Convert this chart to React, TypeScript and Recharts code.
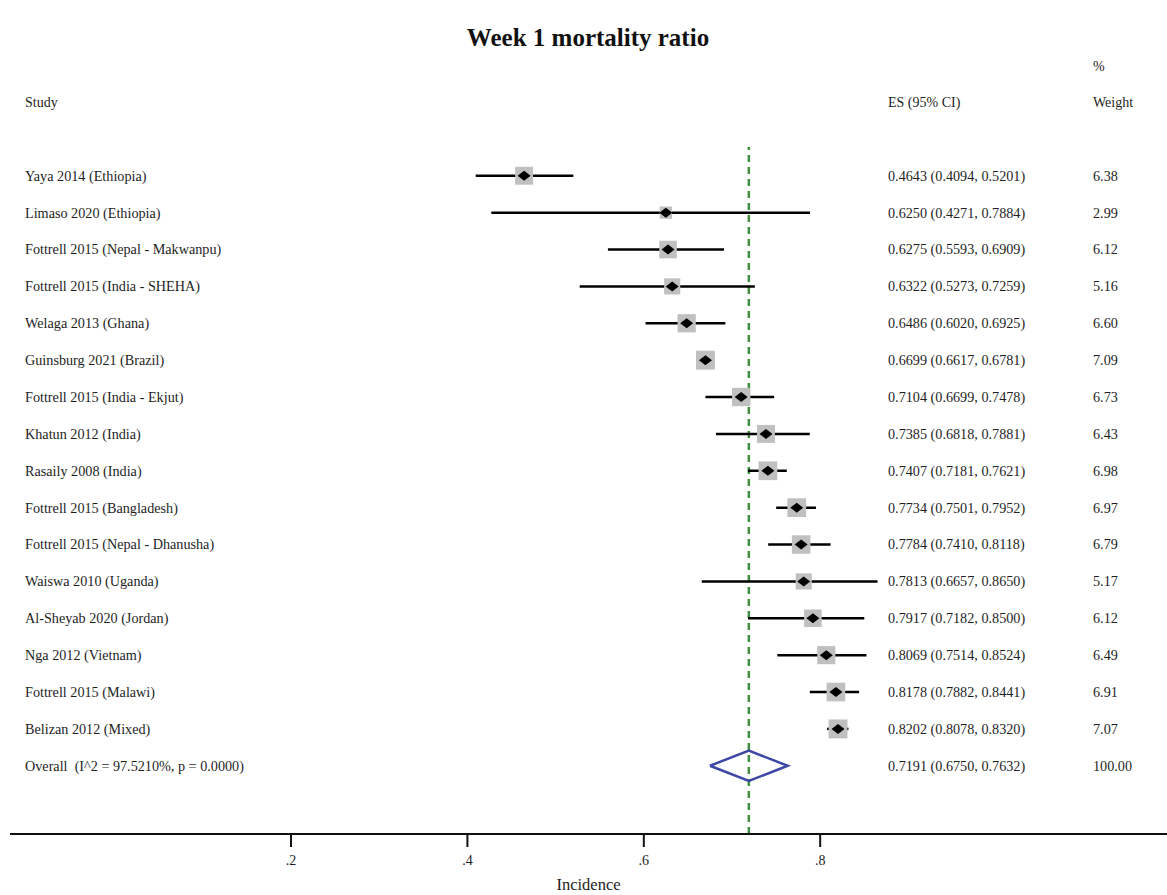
import { ScatterChart, Scatter, XAxis, YAxis, ReferenceLine, ErrorBar } from 'recharts';

const studies = [
  'Yaya 2014 (Ethiopia)',
  'Limaso 2020 (Ethiopia)',
  'Fottrell 2015 (Nepal - Makwanpu)',
  'Fottrell 2015 (India - SHEHA)',
  'Welaga 2013 (Ghana)',
  'Guinsburg 2021 (Brazil)',
  'Fottrell 2015 (India - Ekjut)',
  'Khatun 2012 (India)',
  'Rasaily 2008 (India)',
  'Fottrell 2015 (Bangladesh)',
  'Fottrell 2015 (Nepal - Dhanusha)',
  'Waiswa 2010 (Uganda)',
  'Al-Sheyab 2020 (Jordan)',
  'Nga 2012 (Vietnam)',
  'Fottrell 2015 (Malawi)',
  'Belizan 2012 (Mixed)',
];
const esVals = [0.4643, 0.625, 0.6275, 0.6322, 0.6486, 0.6699, 0.7104, 0.7385, 0.7407, 0.7734, 0.7784, 0.7813, 0.7917, 0.8069, 0.8178, 0.8202];
const ciLow = [0.4094, 0.4271, 0.5593, 0.5273, 0.602, 0.6617, 0.6699, 0.6818, 0.7181, 0.7501, 0.741, 0.6657, 0.7182, 0.7514, 0.7882, 0.8078];
const ciHigh = [0.5201, 0.7884, 0.6909, 0.7259, 0.6925, 0.6781, 0.7478, 0.7881, 0.7621, 0.7952, 0.8118, 0.865, 0.85, 0.8524, 0.8441, 0.832];
const weights = [6.38, 2.99, 6.12, 5.16, 6.6, 7.09, 6.73, 6.43, 6.98, 6.97, 6.79, 5.17, 6.12, 6.49, 6.91, 7.07];

const overallLabel = 'Overall  (I^2 = 97.5210%, p = 0.0000)';
const overallEs = 0.7191;
const overallLow = 0.675;
const overallHigh = 0.7632;
const overallWeight = 100.0;

const xTicks = [0.2, 0.4, 0.6, 0.8];

const FONT = '"Liberation Serif", "Times New Roman", serif';
const TEXT = '#1e1e1e';
const LABEL_X = 25;
const ES_X = 888;
const WT_X = 1093;

const rows = studies.map((name, i) => ({
  name,
  x: esVals[i],
  y: i + 1,
  lo: ciLow[i],
  hi: ciHigh[i],
  w: weights[i],
  err: [esVals[i] - ciLow[i], ciHigh[i] - esVals[i]],
}));

const overallRow = { name: overallLabel, x: overallEs, y: studies.length + 1, lo: overallLow, hi: overallHigh, w: overallWeight };

// outline of the pooled-estimate diamond, walked in order
const diamondPts = [
  { x: overallLow, y: overallRow.y },
  { x: overallEs, y: overallRow.y - 0.41 },
  { x: overallHigh, y: overallRow.y },
  { x: overallEs, y: overallRow.y + 0.41 },
  { x: overallLow, y: overallRow.y },
];

const f4 = (v: number) => v.toFixed(4);

function RowText({ cy, payload }: any) {
  return (
    <g fontFamily={FONT} fontSize={14.2} fill={TEXT}>
      <text x={LABEL_X} y={cy} dy="0.35em" style={{ whiteSpace: 'pre' }}>{payload.name}</text>
      <text x={ES_X} y={cy} dy="0.35em">{`${f4(payload.x)} (${f4(payload.lo)}, ${f4(payload.hi)})`}</text>
      <text x={WT_X} y={cy} dy="0.35em">{payload.w.toFixed(2)}</text>
    </g>
  );
}

function WeightBox(props: any) {
  const { cx, cy, payload } = props;
  const s = 7.1 * Math.sqrt(payload.w);
  return (
    <g>
      <rect x={cx - s / 2} y={cy - s / 2} width={s} height={s} fill="#c0c0c0" />
      <RowText cy={cy} payload={payload} />
    </g>
  );
}

function PointDiamond({ cx, cy }: any) {
  return <polygon points={`${cx - 6.5},${cy} ${cx},${cy - 5} ${cx + 6.5},${cy} ${cx},${cy + 5}`} fill="#000" />;
}

export default function App() {
  return (
    <div style={{ position: 'absolute', left: 0, top: 0, width: 1167, height: 895, background: '#fff', fontFamily: FONT }}>
      <svg width={1167} height={895} style={{ position: 'absolute', left: 0, top: 0 }}>
        <text x={588} y={46} textAnchor="middle" fontFamily={FONT} fontSize={25} fontWeight="bold" fill="#111">
          Week 1 mortality ratio
        </text>
        <g fontFamily={FONT} fontSize={14} fill={TEXT}>
          <text x={LABEL_X} y={107}>Study</text>
          <text x={ES_X} y={107}>ES (95% CI)</text>
          <text x={WT_X} y={71}>%</text>
          <text x={WT_X} y={107}>Weight</text>
        </g>
      </svg>
      <div style={{ position: 'absolute', left: 0, top: 0 }}>
        <ScatterChart width={1167} height={895} margin={{ top: 147, right: 0, bottom: 0, left: 10 }}>
          <XAxis
            xAxisId="top"
            orientation="top"
            type="number"
            dataKey="x"
            domain={[-0.1186, 1.1932]}
            allowDataOverflow
            height={0}
            tick={false}
            tickLine={false}
            axisLine={{ stroke: '#cccccc', strokeWidth: 2 }}
          />
          <XAxis
            type="number"
            dataKey="x"
            domain={[-0.1186, 1.1932]}
            allowDataOverflow
            ticks={xTicks}
            tickFormatter={(v) => String(v).replace(/^0/, '')}
            height={61}
            tickSize={13}
            tickMargin={8}
            axisLine={{ stroke: '#111', strokeWidth: 2 }}
            tickLine={{ stroke: '#111', strokeWidth: 2 }}
            tick={{ fill: TEXT, fontSize: 14, fontFamily: FONT }}
            label={{ value: 'Incidence', position: 'insideBottom', offset: 5, fill: TEXT, fontSize: 16.5, fontFamily: FONT }}
          />
          <YAxis type="number" dataKey="y" domain={[0.22, 18.85]} reversed hide allowDataOverflow />
          <ReferenceLine x={overallEs} stroke="#3f8f3f" strokeWidth={2.5} strokeDasharray="7 5" />
          <Scatter data={rows} shape={WeightBox} isAnimationActive={false} />
          <Scatter data={rows} shape={PointDiamond} isAnimationActive={false}>
            <ErrorBar dataKey="err" direction="x" width={0} stroke="#000" strokeWidth={2.5} isAnimationActive={false} />
          </Scatter>
          <Scatter data={[overallRow]} shape={RowText} isAnimationActive={false} />
          <Scatter
            data={diamondPts}
            line={{ stroke: '#3d47a5', strokeWidth: 2.5 }}
            lineType="joint"
            shape={() => <g />}
            isAnimationActive={false}
          />
        </ScatterChart>
      </div>
    </div>
  );
}
